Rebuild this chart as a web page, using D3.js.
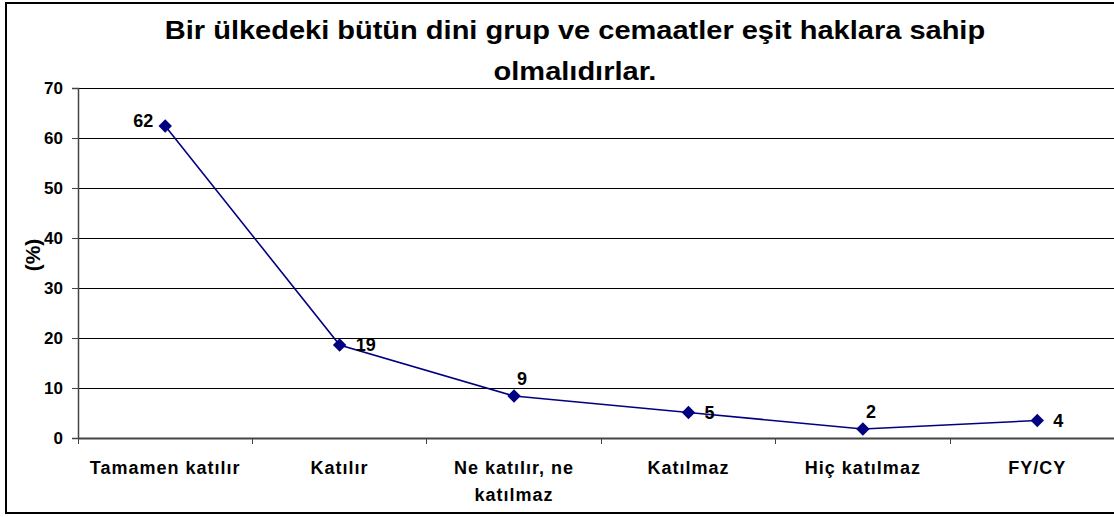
<!DOCTYPE html>
<html lang="tr">
<head>
<meta charset="UTF-8">
<title>Bir ülkedeki bütün dini grup ve cemaatler eşit haklara sahip olmalıdırlar.</title>
<style>
  body { margin: 0; padding: 0; background: #fff; overflow: hidden; }
  svg { display: block; font-family: "Liberation Sans", Arial, sans-serif; }
  .tick text { font-weight: bold; }
</style>
</head>
<body>
<div id="chart"></div>
<script src="https://cdn.jsdelivr.net/npm/d3@7/dist/d3.min.js"></script>
<script>
// veriler
const categories = ["Tamamen katılır", "Katılır", "Ne katılır, ne katılmaz", "Katılmaz", "Hiç katılmaz", "FY/CY"];
const values = [62.4, 18.6, 8.4, 5.1, 1.8, 3.5];
const valueLabels = ["62", "19", "9", "5", "2", "4"];
const labelPlacement = ["left", "right", "above", "right", "above", "right"];
const yTicks = [0, 10, 20, 30, 40, 50, 60, 70];
const titleLines = ["Bir ülkedeki bütün dini grup ve cemaatler eşit haklara sahip", "olmalıdırlar."];

const width = 1114, height = 517;
const plot = { left: 78, right: 1124.5, top: 88, bottom: 438 };

const svg = d3.select("#chart").append("svg")
  .attr("width", width)
  .attr("height", height);

// dış çerçeve (sağ kenar resmin dışında kalıyor)
svg.append("rect")
  .attr("x", 6).attr("y", 3)
  .attr("width", 1140).attr("height", 510)
  .attr("fill", "#fff")
  .attr("stroke", "#000")
  .attr("stroke-width", 2);

const x = d3.scaleBand().domain(categories).range([plot.left, plot.right]);
const y = d3.scaleLinear().domain([0, 70]).range([plot.bottom, plot.top]);

// başlık (orijinaldeki geniş yazıya uymak için yatayda biraz açılıyor)
const title = svg.append("g").selectAll("text")
  .data(titleLines)
  .enter().append("text")
  .attr("x", 575)
  .attr("y", (d, i) => 39 + i * 41)
  .attr("text-anchor", "middle")
  .attr("font-size", 25)
  .attr("font-weight", "bold")
  .text(d => d);
title.each(function() {
  const len = this.getComputedTextLength();
  d3.select(this).attr("textLength", len * 1.16).attr("lengthAdjust", "spacingAndGlyphs");
});

// yatay ızgara çizgileri
svg.append("g").selectAll("line")
  .data(yTicks.filter(t => t > 0))
  .enter().append("line")
  .attr("x1", plot.left).attr("x2", plot.right)
  .attr("y1", d => y(d)).attr("y2", d => y(d))
  .attr("stroke", "#000")
  .attr("stroke-width", 1)
  .attr("shape-rendering", "crispEdges");

// y ekseni
const yAxis = svg.append("g")
  .attr("transform", `translate(${plot.left},0)`)
  .call(d3.axisLeft(y).tickValues(yTicks).tickSize(6).tickPadding(9).tickFormat(d3.format("d")));
yAxis.select(".domain").attr("stroke", "#444").attr("stroke-width", 1.5);
yAxis.selectAll(".tick line").attr("stroke", "#444");
yAxis.selectAll(".tick text").attr("font-size", 17).attr("fill", "#000");

// x ekseni
const xAxis = svg.append("g")
  .attr("transform", `translate(0,${plot.bottom})`)
  .call(d3.axisBottom(x).tickSize(0).tickPadding(0).tickFormat(""));
xAxis.select(".domain").attr("stroke", "#444").attr("stroke-width", 2);

// kategori sınır çentikleri
svg.append("g").selectAll("line")
  .data(categories)
  .enter().append("line")
  .attr("x1", d => x(d)).attr("x2", d => x(d))
  .attr("y1", plot.bottom).attr("y2", plot.bottom + 6)
  .attr("stroke", "#444")
  .attr("shape-rendering", "crispEdges");

// kategori etiketleri (uzun olan iki satıra bölünür)
function wrapLabel(s) {
  return s === "Ne katılır, ne katılmaz" ? ["Ne katılır, ne", "katılmaz"] : [s];
}
const catLabel = svg.append("g").selectAll("text")
  .data(categories)
  .enter().append("text")
  .attr("x", d => x(d) + x.bandwidth() / 2)
  .attr("y", 474)
  .attr("text-anchor", "middle")
  .attr("font-size", 18)
  .attr("font-weight", "bold")
  .attr("letter-spacing", 1);
catLabel.each(function(d) {
  const t = d3.select(this);
  wrapLabel(d).forEach((line, i) => {
    t.append("tspan")
      .attr("x", x(d) + x.bandwidth() / 2)
      .attr("dy", i === 0 ? 0 : 27)
      .text(line);
  });
});

// y ekseni başlığı
svg.append("text")
  .attr("transform", "translate(40,255) rotate(-90)")
  .attr("text-anchor", "middle")
  .attr("font-size", 21)
  .attr("font-weight", "bold")
  .text("(%)");

// çizgi
const line = d3.line()
  .x((d, i) => x(categories[i]) + x.bandwidth() / 2)
  .y(d => y(d));

svg.append("path")
  .datum(values)
  .attr("fill", "none")
  .attr("stroke", "#000080")
  .attr("stroke-width", 1.6)
  .attr("d", line);

// elmas işaretler
svg.append("g").selectAll("path")
  .data(values)
  .enter().append("path")
  .attr("transform", (d, i) => `translate(${x(categories[i]) + x.bandwidth() / 2},${y(d)})`)
  .attr("d", d3.symbol().type(d3.symbolDiamond2).size(115))
  .attr("fill", "#000080");

// değer etiketleri
const offsets = {
  left: { dx: -12, dy: 1, anchor: "end" },
  right: { dx: 16, dy: 6, anchor: "start" },
  above: { dx: 3, dy: -11, anchor: "start" }
};
svg.append("g").selectAll("text")
  .data(values)
  .enter().append("text")
  .attr("x", (d, i) => x(categories[i]) + x.bandwidth() / 2 + offsets[labelPlacement[i]].dx)
  .attr("y", (d, i) => y(d) + offsets[labelPlacement[i]].dy)
  .attr("text-anchor", (d, i) => offsets[labelPlacement[i]].anchor)
  .attr("font-size", 18)
  .attr("font-weight", "bold")
  .text((d, i) => valueLabels[i]);
</script>
</body>
</html>
